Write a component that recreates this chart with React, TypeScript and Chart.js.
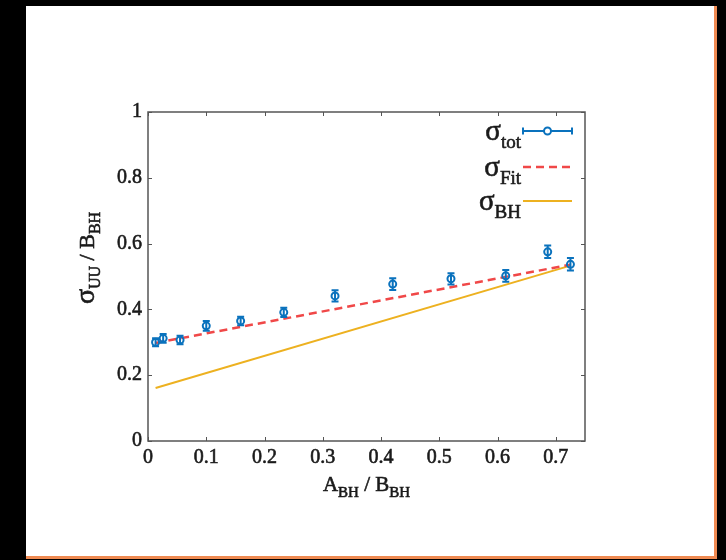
import React, { useEffect, useRef } from "react";
import { Chart, registerables } from "chart.js";

Chart.register(...registerables);

// ---- data ----
const xVals = [0.013, 0.026, 0.055, 0.1, 0.159, 0.233, 0.321, 0.42, 0.52, 0.614, 0.686, 0.725];
const yVals = [0.3, 0.312, 0.307, 0.35, 0.365, 0.391, 0.441, 0.477, 0.493, 0.502, 0.575, 0.537];
const yErrs = [0.012, 0.013, 0.013, 0.015, 0.013, 0.014, 0.017, 0.018, 0.017, 0.018, 0.019, 0.019];
const fitX = [0.013, 0.725];
const fitY = [0.298, 0.536];
const bhX = [0.013, 0.725];
const bhY = [0.161, 0.533];
const xTickValues = [0, 0.1, 0.2, 0.3, 0.4, 0.5, 0.6, 0.7];
const xTickLabels = ["0", "0.1", "0.2", "0.3", "0.4", "0.5", "0.6", "0.7"];
const yTickValues = [0, 0.2, 0.4, 0.6, 0.8, 1];
const yTickLabels = ["0", "0.2", "0.4", "0.6", "0.8", "1"];

const BLUE = "#0a72bd";
const RED = "#f04848";
const ORANGE = "#edb120";
const SERIF = "'Liberation Serif', 'DejaVu Serif', serif";
const AXIS = "#555555";
const TEXT = "#1a1a1a";

type Part = { t: string; size: number; dy: number };

function drawRich(ctx: CanvasRenderingContext2D, parts: Part[], x: number, y: number, align: "left" | "center" | "right") {
  let total = 0;
  const widths = parts.map((p) => {
    ctx.font = `${p.size}px ${SERIF}`;
    const w = ctx.measureText(p.t).width;
    total += w;
    return w;
  });
  let cx = align === "left" ? x : align === "center" ? x - total / 2 : x - total;
  ctx.textAlign = "left";
  ctx.textBaseline = "alphabetic";
  ctx.lineWidth = 0.6;
  ctx.strokeStyle = ctx.fillStyle as string;
  ctx.setLineDash([]);
  parts.forEach((p, i) => {
    ctx.font = `${p.size}px ${SERIF}`;
    ctx.fillText(p.t, cx, y + p.dy);
    ctx.strokeText(p.t, cx, y + p.dy);
    cx += widths[i];
  });
}

const decorPlugin = {
  id: "decor",
  afterDatasetsDraw(chart: any) {
    const ctx: CanvasRenderingContext2D = chart.ctx;
    const xs = chart.scales.x;
    const ys = chart.scales.y;
    // error bars
    ctx.save();
    ctx.strokeStyle = BLUE;
    ctx.lineWidth = 2;
    xVals.forEach((xv, i) => {
      const px = xs.getPixelForValue(xv);
      const top = ys.getPixelForValue(yVals[i] + yErrs[i]);
      const bot = ys.getPixelForValue(yVals[i] - yErrs[i]);
      ctx.beginPath();
      ctx.moveTo(px, top);
      ctx.lineTo(px, bot);
      ctx.moveTo(px - 3.5, top);
      ctx.lineTo(px + 3.5, top);
      ctx.moveTo(px - 3.5, bot);
      ctx.lineTo(px + 3.5, bot);
      ctx.stroke();
    });
    ctx.restore();
  },
  afterDraw(chart: any) {
    const ctx: CanvasRenderingContext2D = chart.ctx;
    const a = chart.chartArea;
    const xs = chart.scales.x;
    const ys = chart.scales.y;
    ctx.save();
    // frame
    ctx.strokeStyle = AXIS;
    ctx.lineWidth = 1.5;
    ctx.strokeRect(a.left, a.top, a.right - a.left, a.bottom - a.top);
    ctx.lineWidth = 1;
    ctx.beginPath();
    xTickValues.forEach((v) => {
      const px = Math.round(xs.getPixelForValue(v)) + 0.5;
      ctx.moveTo(px, a.bottom);
      ctx.lineTo(px, a.bottom - 4);
      ctx.moveTo(px, a.top);
      ctx.lineTo(px, a.top + 4);
    });
    yTickValues.forEach((v) => {
      const py = Math.round(ys.getPixelForValue(v)) + 0.5;
      ctx.moveTo(a.left, py);
      ctx.lineTo(a.left + 4, py);
      ctx.moveTo(a.right, py);
      ctx.lineTo(a.right - 4, py);
    });
    ctx.stroke();

    // axis titles
    ctx.fillStyle = TEXT;
    drawRich(
      ctx,
      [
        { t: "A", size: 21, dy: 0 },
        { t: "BH", size: 15, dy: 6 },
        { t: " / B", size: 21, dy: 0 },
        { t: "BH", size: 15, dy: 6 },
      ],
      (a.left + a.right) / 2,
      491,
      "center"
    );
    ctx.save();
    ctx.translate(94, 258);
    ctx.rotate(-Math.PI / 2);
    ctx.fillStyle = TEXT;
    drawRich(
      ctx,
      [
        { t: "σ", size: 28, dy: 0 },
        { t: "UU", size: 16, dy: 6 },
        { t: " / B", size: 22, dy: 0 },
        { t: "BH", size: 16, dy: 6 },
      ],
      0,
      0,
      "center"
    );
    ctx.restore();

    // legend
    const rows = [
      { sub: "tot", y: 131 },
      { sub: "Fit", y: 167 },
      { sub: "BH", y: 201 },
    ];
    const textRight = 521;
    const l0 = 523;
    const l1 = 572;
    rows.forEach((r, i) => {
      ctx.fillStyle = TEXT;
      drawRich(
        ctx,
        [
          { t: "σ", size: 29, dy: 0 },
          { t: r.sub, size: 19, dy: 8 },
        ],
        textRight,
        r.y + 9,
        "right"
      );
      ctx.save();
      if (i === 0) {
        ctx.strokeStyle = BLUE;
        ctx.lineWidth = 2;
        ctx.beginPath();
        ctx.moveTo(l0, r.y);
        ctx.lineTo(l1, r.y);
        ctx.moveTo(l0, r.y - 3.5);
        ctx.lineTo(l0, r.y + 3.5);
        ctx.moveTo(l1, r.y - 3.5);
        ctx.lineTo(l1, r.y + 3.5);
        ctx.stroke();
        ctx.beginPath();
        ctx.arc((l0 + l1) / 2, r.y, 3.5, 0, Math.PI * 2);
        ctx.fillStyle = "#ffffff";
        ctx.fill();
        ctx.stroke();
      } else if (i === 1) {
        ctx.strokeStyle = RED;
        ctx.lineWidth = 2.5;
        ctx.setLineDash([8, 5]);
        ctx.beginPath();
        ctx.moveTo(l0, r.y);
        ctx.lineTo(l1, r.y);
        ctx.stroke();
      } else {
        ctx.strokeStyle = ORANGE;
        ctx.lineWidth = 2;
        ctx.beginPath();
        ctx.moveTo(l0, r.y);
        ctx.lineTo(l1, r.y);
        ctx.stroke();
      }
      ctx.restore();
    });
    ctx.restore();
  },
};

export default function App() {
  const ref = useRef<HTMLCanvasElement | null>(null);
  useEffect(() => {
    if (!ref.current) return;
    const chart = new Chart(ref.current, {
      type: "scatter",
      data: {
        datasets: [
          {
            type: "line",
            label: "BH",
            data: bhX.map((x, i) => ({ x, y: bhY[i] })),
            borderColor: ORANGE,
            borderWidth: 2,
            pointRadius: 0,
            fill: false,
            order: 3,
          } as any,
          {
            type: "line",
            label: "Fit",
            data: fitX.map((x, i) => ({ x, y: fitY[i] })),
            borderColor: RED,
            borderWidth: 2.5,
            borderDash: [8, 5],
            pointRadius: 0,
            fill: false,
            order: 2,
          } as any,
          {
            type: "scatter",
            label: "tot",
            data: xVals.map((x, i) => ({ x, y: yVals[i] })),
            borderColor: BLUE,
            backgroundColor: "rgba(255,255,255,0)",
            borderWidth: 2,
            pointRadius: 3.5,
            pointStyle: "circle",
            order: 1,
          },
        ],
      },
      options: {
        animation: false,
        responsive: false,
        maintainAspectRatio: false,
        devicePixelRatio: 1,
        layout: { padding: { left: 0, right: 141, top: 112, bottom: 89 } },
        plugins: { legend: { display: false }, tooltip: { enabled: false }, title: { display: false } },
        scales: {
          x: {
            type: "linear",
            min: 0,
            max: 0.75,
            grid: { display: false, drawTicks: false },
            border: { display: false },
            afterBuildTicks: (s: any) => {
              s.ticks = xTickValues.map((v) => ({ value: v }));
            },
            afterFit: (s: any) => {
              s.height = 30;
            },
            ticks: {
              padding: 5,
              color: TEXT,
              textStrokeColor: TEXT,
              textStrokeWidth: 0.6,
              font: { family: SERIF, size: 20 },
              maxRotation: 0,
              autoSkip: false,
              callback: (v: any) => {
                const i = xTickValues.findIndex((t) => Math.abs(t - Number(v)) < 1e-9);
                return i >= 0 ? xTickLabels[i] : "";
              },
            },
          },
          y: {
            type: "linear",
            min: 0,
            max: 1,
            grid: { display: false, drawTicks: false },
            border: { display: false },
            afterBuildTicks: (s: any) => {
              s.ticks = yTickValues.map((v) => ({ value: v }));
            },
            afterFit: (s: any) => {
              s.width = 148;
            },
            ticks: {
              padding: 6,
              color: TEXT,
              textStrokeColor: TEXT,
              textStrokeWidth: 0.6,
              font: { family: SERIF, size: 20 },
              autoSkip: false,
              callback: (v: any) => {
                const i = yTickValues.findIndex((t) => Math.abs(t - Number(v)) < 1e-9);
                return i >= 0 ? yTickLabels[i] : "";
              },
            },
          },
        },
      },
      plugins: [decorPlugin],
    } as any);
    return () => chart.destroy();
  }, []);

  return (
    <div style={{ position: "fixed", left: 0, top: 0, width: 726, height: 560, background: "#000", overflow: "hidden" }}>
      <div
        style={{
          position: "absolute",
          left: 26,
          top: 6,
          width: 688,
          height: 550,
          background: "#fff",
          borderRight: "3px solid #ef8a52",
          borderBottom: "3px solid #ef8a52",
        }}
      />
      <canvas ref={ref} width={726} height={560} style={{ position: "absolute", left: 0, top: 0, width: 726, height: 560 }} />
    </div>
  );
}
